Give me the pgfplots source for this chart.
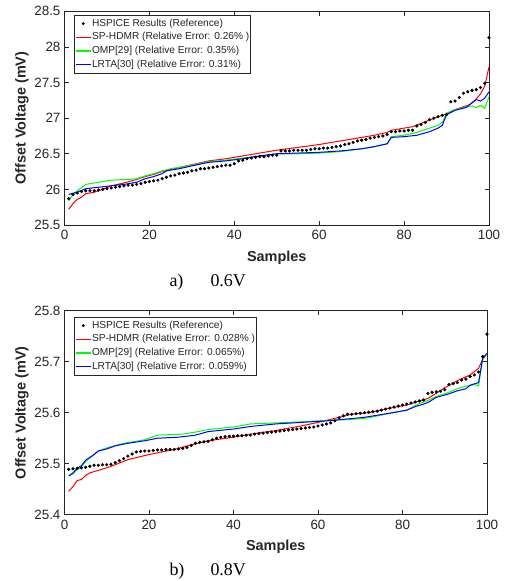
\documentclass[border=0pt]{standalone}
\usepackage{fontspec}
\setmainfont{Liberation Sans}
\newfontfamily\capfont{Liberation Serif}
\usepackage{pgfplots}
\pgfplotsset{compat=1.18}
\definecolor{axgray}{RGB}{38,38,38}
\definecolor{mred}{RGB}{255,0,0}
\definecolor{mgreen}{RGB}{0,255,0}
\definecolor{mblue}{RGB}{0,0,255}
\pgfplotsset{
  mystyle/.style={
    scale only axis,
    xmin=0, xmax=100,
    xtick={0,20,40,60,80,100},
    tick pos=both,
    tick align=inside,
    major tick length=4.5bp,
    axis line style={axgray, line width=0.8bp},
    every tick/.style={axgray, line width=0.8bp},
    tick label style={font=\fontsize{13.5}{15}\selectfont, text=axgray},
    /pgf/number format/assume math mode=true,
    xticklabel style={yshift=-2bp},
    yticklabel style={xshift=-0.5bp},
    xlabel={\textbf{Samples}},
    ylabel={\textbf{Offset Voltage (mV)}},
    label style={font=\fontsize{14.5}{16}\selectfont, text=axgray},
    legend style={draw=axgray, line width=0.6bp, fill=white,
      font=\fontsize{10.2}{12}\selectfont,
      inner xsep=0.8bp, inner ysep=1.5bp, row sep=0pt,
      nodes={inner xsep=0.6bp, inner ysep=1.85bp, text height=7.5bp, text depth=2.5bp},
      cells={anchor=west}},
  },
  redline/.style={no marks, line width=1bp, color=mred,
    legend image code/.code={\draw[draw=mred, line width=1.3bp] (0bp,0bp) -- (15bp,0bp);}},
  greenline/.style={no marks, line width=1bp, color=mgreen,
    legend image code/.code={\draw[draw=mgreen, line width=1.3bp] (0bp,0bp) -- (15bp,0bp);}},
  blueline/.style={no marks, line width=1bp, color=mblue,
    legend image code/.code={\draw[draw=mblue, line width=1.3bp] (0bp,0bp) -- (15bp,0bp);}},
  dots/.style={only marks, mark=*, mark size=1.4bp, color=black,
    legend image code/.code={\fill[black] (7.5bp,0bp) circle[radius=1.1bp];}},
}
\pgfplotstableread{
x y
1 25.87
2 25.93
3 25.95
4 25.97
5 25.98
6 25.98
7 25.98
8 25.99
9 26.00
10 26.01
11 26.02
12 26.03
13 26.04
14 26.05
15 26.06
16 26.06
17 26.07
18 26.08
19 26.10
20 26.11
21 26.12
22 26.13
23 26.15
24 26.17
25 26.19
26 26.20
27 26.22
28 26.23
29 26.24
30 26.26
31 26.27
32 26.29
33 26.29
34 26.30
35 26.31
36 26.32
37 26.33
38 26.34
39 26.34
40 26.36
41 26.40
42 26.41
43 26.43
44 26.44
45 26.45
46 26.46
47 26.46
48 26.47
49 26.48
50 26.48
51 26.54
52 26.54
53 26.54
54 26.55
55 26.55
56 26.55
57 26.55
58 26.56
59 26.57
60 26.57
61 26.58
62 26.58
63 26.59
64 26.60
65 26.61
66 26.63
67 26.64
68 26.66
69 26.68
70 26.69
71 26.70
72 26.72
73 26.73
74 26.74
75 26.75
76 26.77
77 26.81
78 26.81
79 26.82
80 26.82
81 26.83
82 26.83
83 26.89
84 26.91
85 26.94
86 26.98
87 27.00
88 27.02
89 27.04
90 27.05
91 27.23
92 27.24
93 27.29
94 27.35
95 27.37
96 27.39
97 27.40
98 27.43
99 27.49
100 28.13
}\hspiceA
\pgfplotstableread{
x y
1 25.489
2 25.490
3 25.491
4 25.492
5 25.493
6 25.495
7 25.497
8 25.497
9 25.498
10 25.498
11 25.499
12 25.502
13 25.506
14 25.510
15 25.515
16 25.519
17 25.523
18 25.524
19 25.525
20 25.525
21 25.526
22 25.527
23 25.527
24 25.528
25 25.528
26 25.528
27 25.529
28 25.530
29 25.532
30 25.536
31 25.540
32 25.542
33 25.543
34 25.544
35 25.547
36 25.550
37 25.552
38 25.553
39 25.554
40 25.554
41 25.555
42 25.555
43 25.556
44 25.556
45 25.558
46 25.559
47 25.560
48 25.561
49 25.562
50 25.563
51 25.564
52 25.565
53 25.566
54 25.567
55 25.568
56 25.569
57 25.570
58 25.571
59 25.572
60 25.574
61 25.576
62 25.578
63 25.580
64 25.584
65 25.590
66 25.594
67 25.597
68 25.597
69 25.598
70 25.599
71 25.600
72 25.601
73 25.602
74 25.603
75 25.605
76 25.607
77 25.609
78 25.611
79 25.613
80 25.615
81 25.617
82 25.619
83 25.621
84 25.623
85 25.625
86 25.638
87 25.640
88 25.641
89 25.642
90 25.645
91 25.655
92 25.657
93 25.659
94 25.664
95 25.666
96 25.671
97 25.674
98 25.680
99 25.710
100 25.754
}\hspiceB
\begin{document}
\begin{tikzpicture}
\path[use as bounding box] (0,0) rectangle (506bp,-581bp);
% ---------- a) 0.6V ----------
\begin{axis}[mystyle,
  at={(64.5bp,-225bp)}, anchor=south west,
  width=424.5bp, height=213.7bp,
  ymin=25.5, ymax=28.5,
  ytick={25.5,26,26.5,27,27.5,28,28.5},
  xlabel style={at={(axis description cs:0.5,-0.1544)}, anchor=center},
  ylabel style={at={(axis description cs:-0.1001,0.5)}, anchor=center},
  legend style={at={(0.0224,0.983)}, anchor=north west},
]
\addplot[dots] table[x=x,y=y] {\hspiceA};
\addlegendentry{\color{axgray}HSPICE Results (Reference)}
\addplot[redline] coordinates {(1,25.72)(2,25.80)(3,25.86)(4,25.89)(5,25.94)(7,25.96)(9,26.00)(11,26.05)(14,26.09)(17,26.14)(19,26.18)(21,26.21)(23,26.25)(25,26.28)(28,26.32)(31,26.36)(34,26.40)(38,26.43)(41,26.46)(45,26.50)(50,26.55)(55,26.59)(60,26.63)(65,26.68)(70,26.73)(73,26.76)(76,26.80)(77,26.83)(80,26.86)(82,26.88)(85,26.95)(88,27.02)(90,27.06)(92,27.12)(94,27.16)(95,27.18)(96,27.21)(97,27.27)(98,27.34)(99,27.45)(100,27.72)};
\addlegendentry{\color{axgray}SP-HDMR (Relative Error: 0.26\% )}
\addplot[greenline] coordinates {(1,25.84)(2,25.93)(3,25.98)(5,26.07)(8,26.10)(11,26.13)(15,26.14)(17,26.15)(19,26.19)(21,26.22)(23,26.26)(25,26.29)(30,26.34)(34,26.39)(38,26.41)(42,26.44)(46,26.47)(50,26.50)(55,26.50)(60,26.51)(65,26.53)(70,26.57)(73,26.60)(76,26.64)(77,26.74)(80,26.76)(83,26.80)(86,26.86)(88,26.90)(89,26.94)(90,27.07)(92,27.12)(94,27.15)(95,27.17)(96,27.17)(97,27.15)(98,27.18)(99,27.14)(100,27.30)};
\addlegendentry{\color{axgray}OMP[29] (Relative Error: 0.35\%)}
\addplot[blueline] coordinates {(1,25.93)(3,25.96)(5,26.01)(8,26.03)(11,26.05)(14,26.07)(17,26.10)(19,26.15)(21,26.18)(23,26.22)(24,26.26)(27,26.29)(30,26.33)(34,26.38)(38,26.40)(42,26.43)(46,26.47)(50,26.50)(55,26.51)(60,26.52)(65,26.54)(70,26.57)(73,26.60)(76,26.64)(77,26.73)(80,26.74)(83,26.76)(86,26.81)(88,26.86)(89,26.90)(90,27.05)(92,27.11)(94,27.14)(95,27.16)(96,27.22)(97,27.26)(98,27.24)(99,27.28)(100,27.37)};
\addlegendentry{\color{axgray}LRTA[30] (Relative Error: 0.31\%)}
\end{axis}
% ---------- b) 0.8V ----------
\begin{axis}[mystyle,
  at={(64.5bp,-514.7bp)}, anchor=south west,
  width=422.5bp, height=204bp,
  ymin=25.4, ymax=25.8,
  ytick={25.4,25.5,25.6,25.7,25.8},
  yticklabel style={/pgf/number format/fixed, /pgf/number format/precision=1},
  xlabel style={at={(axis description cs:0.5,-0.158)}, anchor=center},
  ylabel style={at={(axis description cs:-0.1006,0.5)}, anchor=center},
  legend style={at={(0.0225,0.969)}, anchor=north west},
]
\addplot[dots] table[x=x,y=y] {\hspiceB};
\addlegendentry{\color{axgray}HSPICE Results (Reference)}
\addplot[redline] coordinates {(1,25.446)(2,25.455)(3,25.467)(4,25.469)(5,25.477)(6,25.482)(8,25.487)(10,25.492)(12,25.498)(15,25.508)(18,25.514)(20,25.518)(23,25.523)(26,25.528)(30,25.537)(34,25.545)(40,25.552)(44,25.558)(50,25.565)(56,25.574)(60,25.581)(64,25.589)(68,25.597)(72,25.600)(77,25.609)(81,25.615)(84,25.623)(86,25.628)(88,25.638)(90,25.649)(93,25.663)(96,25.674)(98,25.687)(99,25.705)(100,25.716)};
\addlegendentry{\color{axgray}SP-HDMR (Relative Error: 0.028\% )}
\addplot[greenline] coordinates {(1,25.476)(2,25.480)(3,25.488)(4,25.494)(5,25.504)(7,25.518)(8,25.525)(10,25.531)(14,25.540)(19,25.547)(22,25.556)(25,25.557)(28,25.558)(31,25.562)(34,25.567)(40,25.572)(44,25.578)(50,25.580)(56,25.582)(62,25.585)(66,25.586)(70,25.588)(72,25.590)(77,25.599)(81,25.605)(84,25.618)(86,25.624)(88,25.632)(91,25.640)(93,25.647)(95,25.652)(97,25.655)(98,25.653)(99,25.706)(100,25.716)};
\addlegendentry{\color{axgray}OMP[29] (Relative Error: 0.065\%)}
\addplot[blueline] coordinates {(1,25.476)(2,25.482)(3,25.491)(4,25.496)(5,25.507)(7,25.518)(8,25.525)(10,25.529)(12,25.535)(15,25.540)(19,25.545)(22,25.550)(27,25.552)(31,25.556)(34,25.563)(40,25.568)(44,25.573)(50,25.578)(56,25.581)(62,25.584)(66,25.587)(71,25.591)(77,25.599)(81,25.605)(83,25.612)(85,25.617)(86,25.620)(88,25.630)(91,25.637)(93,25.643)(95,25.647)(96,25.654)(98,25.659)(99,25.708)(100,25.716)};
\addlegendentry{\color{axgray}LRTA[30] (Relative Error: 0.059\%)}
\end{axis}
% captions
\node[anchor=base west, font=\capfont\fontsize{18}{20}\selectfont] at (166bp,-286bp) {a)};
\node[anchor=base west, font=\capfont\fontsize{18}{20}\selectfont] at (207bp,-286bp) {0.6V};
\node[anchor=base west, font=\capfont\fontsize{18}{20}\selectfont] at (166bp,-575bp) {b)};
\node[anchor=base west, font=\capfont\fontsize{18}{20}\selectfont] at (207bp,-575bp) {0.8V};
\end{tikzpicture}
\end{document}
